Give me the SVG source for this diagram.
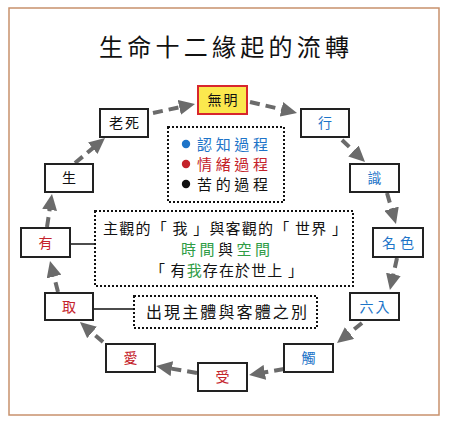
<svg xmlns="http://www.w3.org/2000/svg" width="450" height="428" viewBox="0 0 450 428">
<defs>
<style>
text{font-family:"Noto Sans CJK TC","Noto Sans CJK SC",sans-serif;}
.node rect{fill:#fff;stroke:#222;stroke-width:2;}
.node text{font-size:14px;text-anchor:middle;}
.blue{fill:#1d74c8;}
.red{fill:#c4232b;}
.green{fill:#2f9c45;}
.blk{fill:#111;}
.dot{fill:none;stroke:#111;stroke-width:2;stroke-dasharray:2 2;}
.conn{fill:none;stroke:#6b6b6b;stroke-width:4;stroke-dasharray:10 6;marker-end:url(#ah);}
.tie{stroke:#111;stroke-width:1.5;}
</style>
<marker id="ah" markerUnits="userSpaceOnUse" markerWidth="16" markerHeight="15" refX="6" refY="7.5" orient="auto" viewBox="0 0 16 15">
<path d="M0,0 L16,7.5 L0,15 z" fill="#6b6b6b"/>
</marker>
</defs>
<rect x="0" y="0" width="450" height="428" fill="#fff"/>
<rect x="9" y="8" width="430" height="407" fill="#fff" stroke="#c8916c" stroke-width="1.5"/>
<text x="224" y="56" font-size="24" text-anchor="middle" textLength="250" lengthAdjust="spacing" fill="#111">生命十二緣起的流轉</text>

<g id="connectors">
<line class="conn" x1="153" y1="113" x2="185.2" y2="106.1"/>
<line class="conn" x1="250" y1="102" x2="287.3" y2="110.7"/>
<line class="conn" x1="342" y1="140" x2="357.8" y2="155.1"/>
<line class="conn" x1="387" y1="193" x2="393.2" y2="214.4"/>
<line class="conn" x1="397" y1="258" x2="392.1" y2="280.2"/>
<line class="conn" x1="362" y1="323" x2="344.8" y2="336.8"/>
<line class="conn" x1="284" y1="369" x2="258.9" y2="373.3"/>
<line class="conn" x1="197" y1="373" x2="165.9" y2="367.7"/>
<line class="conn" x1="103" y1="342" x2="87.5" y2="328.6"/>
<line class="conn" x1="58" y1="292" x2="52.5" y2="270.7"/>
<line class="conn" x1="47" y1="227" x2="50.5" y2="203.9"/>
<line class="conn" x1="75" y1="163" x2="97.3" y2="144.4"/>
<line class="tie" x1="70" y1="244" x2="95" y2="244"/>
<line class="tie" x1="93" y1="309" x2="134" y2="309"/>
</g>

<g id="n-wuming" class="node"><rect x="198" y="86" width="49" height="28" style="fill:#fbe84e;stroke:#d8262d"/><text x="222.5" y="105" class="blk" textLength="30" lengthAdjust="spacing">無明</text></g>
<g id="n-laosi" class="node"><rect x="100" y="109" width="48" height="28"/><text x="124" y="128" class="blk" textLength="30" lengthAdjust="spacing">老死</text></g>
<g id="n-xing" class="node"><rect x="301" y="109" width="48" height="28"/><text x="325" y="128" class="blue">行</text></g>
<g id="n-shi" class="node"><rect x="350" y="164" width="49" height="28"/><text x="374.5" y="183" class="blue">識</text></g>
<g id="n-mingse" class="node"><rect x="373" y="228" width="50" height="29"/><text x="398" y="247.5" class="blue" textLength="32" lengthAdjust="spacing">名色</text></g>
<g id="n-liuru" class="node"><rect x="350" y="293" width="49" height="27"/><text x="374.5" y="311.5" class="blue" textLength="30" lengthAdjust="spacing">六入</text></g>
<g id="n-chu" class="node"><rect x="284" y="344" width="49" height="28"/><text x="308.5" y="363" class="blue">觸</text></g>
<g id="n-shou" class="node"><rect x="198" y="363" width="49" height="28"/><text x="222.5" y="382" class="red">受</text></g>
<g id="n-ai" class="node"><rect x="106" y="344" width="49" height="28"/><text x="130.5" y="363" class="red">愛</text></g>
<g id="n-qu" class="node"><rect x="45" y="293" width="48" height="27"/><text x="69" y="311.5" class="red">取</text></g>
<g id="n-you" class="node"><rect x="21" y="228" width="49" height="29"/><text x="45.5" y="247.5" class="red">有</text></g>
<g id="n-sheng" class="node"><rect x="45" y="164" width="48" height="28"/><text x="69" y="183" class="blk">生</text></g>

<g id="legend">
<rect class="dot" x="168" y="127" width="116" height="75"/>
<circle cx="186" cy="144" r="4.2" fill="#1d74c8"/>
<text x="197" y="149.5" font-size="15" class="blue" textLength="71" lengthAdjust="spacing">認知過程</text>
<circle cx="186" cy="164" r="4.2" fill="#c4232b"/>
<text x="197" y="169.5" font-size="15" class="red" textLength="71" lengthAdjust="spacing">情緒過程</text>
<circle cx="186" cy="184" r="4.2" fill="#111"/>
<text x="197" y="189.5" font-size="15" class="blk" textLength="71" lengthAdjust="spacing">苦的過程</text>
</g>

<g id="world">
<rect class="dot" x="95" y="211" width="258" height="75"/>
<text x="103" y="234" font-size="15" class="blk" textLength="244" lengthAdjust="spacing">主觀的「 我 」與客觀的「 世界 」</text>
<text x="181" y="255" font-size="15" textLength="89" lengthAdjust="spacing"><tspan class="green">時間</tspan><tspan class="blk">與</tspan><tspan class="green">空間</tspan></text>
<text x="150" y="276" font-size="15" textLength="153" lengthAdjust="spacing"><tspan class="blk">「 有</tspan><tspan class="green">我</tspan><tspan class="blk">存在於世上 」</tspan></text>
</g>

<g id="subject">
<rect class="dot" x="134" y="296" width="183" height="32"/>
<text x="146" y="318" font-size="16" class="blk" textLength="161" lengthAdjust="spacing">出現主體與客體之別</text>
</g>
</svg>
